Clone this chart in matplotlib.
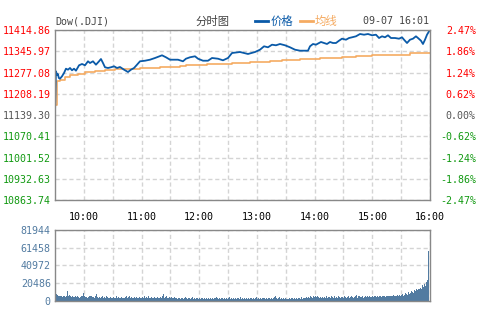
import numpy as np
import matplotlib
matplotlib.use("Agg")
import matplotlib.pyplot as plt

plt.rcParams['font.family'] = ['DejaVu Sans Mono', 'Noto Sans CJK SC']

# price axis levels (prev close in the middle)
price_levels = [10863.74, 10932.63, 11001.52, 11070.41, 11139.30,
                11208.19, 11277.08, 11345.97, 11414.86]
pct_labels = ['-2.47%', '-1.86%', '-1.24%', '-0.62%', '0.00%',
              '0.62%', '1.24%', '1.86%', '2.47%']
time_labels = ['10:00', '', '11:00', '', '12:00', '', '13:00', '', '14:00',
               '', '15:00', '', '16:00']
vol_levels = [0, 20486, 40972, 61458, 81944]

# minutes since 9:30
price_min = [0, 1, 2, 3, 4, 5.2, 7.3, 9.4, 11.4, 13.5, 15.6, 17.7, 19.8, 21.8,
             25, 28.1, 31.2, 34.3, 36.4, 39.5, 42.6, 45.8, 47.8, 49.9, 52,
             55.1, 58.2, 61.4, 64.5, 67.6, 71.8, 75.9, 79, 82.2, 85.3, 88.4,
             93.6, 98.8, 104, 111.3, 115.4, 119.6, 127.9, 133.1, 136.2, 140.4,
             145.6, 148.7, 153.9, 159.1, 163.3, 169.5, 174.7, 179.9, 184.1,
             192.4, 196.6, 200.7, 208, 213.2, 217.4, 221.5, 225.7, 229.8, 234,
             239.2, 244.4, 249.6, 254.8, 263.1, 265.2, 268.3, 271.4, 274.6,
             276.6, 279.8, 282.9, 286, 289.1, 292.2, 295.4, 298.5, 302.6,
             305.8, 308.9, 313, 317.2, 321.4, 325.5, 329.7, 333.8, 337, 340.1,
             343.2, 346.3, 349.4, 353.6, 357.8, 360.9, 363, 366.1, 369.2,
             372.3, 375.4, 377.5, 380.6, 382.7, 384.8, 386.9, 389, 390]
price = [11145.8, 11281.0, 11270.0, 11272.0, 11259.3, 11257.0, 11264.8,
         11275.5, 11289.4, 11286.2, 11291.7, 11284.2, 11289.4, 11282.9,
         11300.4, 11304.7, 11300.4, 11313.4, 11307.9, 11313.4, 11302.4,
         11313.4, 11320.9, 11307.9, 11294.0, 11291.7, 11294.0, 11297.2,
         11291.7, 11294.9, 11286.2, 11278.7, 11286.2, 11291.7, 11302.4,
         11313.4, 11315.3, 11318.6, 11324.1, 11332.8, 11326.4, 11318.6,
         11318.6, 11313.4, 11321.8, 11326.4, 11329.6, 11321.8, 11315.3,
         11315.3, 11324.1, 11321.8, 11316.6, 11324.1, 11340.3, 11343.5,
         11340.3, 11337.1, 11343.5, 11351.0, 11362.0, 11358.8, 11367.2,
         11365.3, 11369.5, 11365.3, 11358.8, 11351.0, 11347.8, 11347.8,
         11362.0, 11369.5, 11367.2, 11372.7, 11376.0, 11372.7, 11369.5,
         11376.0, 11372.7, 11372.7, 11380.2, 11386.7, 11383.4, 11388.9,
         11391.2, 11394.4, 11401.9, 11399.6, 11401.9, 11397.7, 11399.6,
         11388.9, 11394.4, 11391.2, 11397.7, 11388.9, 11388.9, 11386.7,
         11391.2, 11383.4, 11372.7, 11383.4, 11386.7, 11394.4, 11388.9,
         11380.2, 11369.5, 11383.4, 11399.6, 11410.6, 11414.86]

avg_min = [0, 2.1, 5.2, 10.4, 15.6, 23.9, 31.2, 41.6, 52, 62.4, 88.4, 109.2,
           130, 136.2, 158, 184.1, 202.8, 223.6, 236.1, 254.8, 275.6, 298.5,
           313, 329.7, 346.3, 369.2, 390]
avg = [11171.7, 11248.5, 11253.7, 11261.5, 11268.0, 11272.2, 11277.7,
       11282.9, 11286.2, 11289.4, 11291.7, 11294.0, 11297.2, 11300.4,
       11304.7, 11307.9, 11311.1, 11313.4, 11316.6, 11320.9, 11324.1,
       11326.4, 11329.6, 11332.8, 11334.8, 11340.3, 11340.3]

# volume per minute, thousands
volume_k = [
    18, 16, 8, 7, 6, 5, 6, 5, 4, 5, 6, 4, 5, 11, 6, 7, 5, 4, 5, 4,
    4, 5, 3, 4, 5, 4, 3, 4, 5, 6, 9, 5, 4, 4, 3, 4, 5, 6, 5, 4,
    4, 3, 5, 8, 4, 3, 4, 5, 3, 4, 6, 3, 4, 3, 5, 4, 3, 3, 4, 3,
    3, 4, 3, 3, 5, 3, 4, 3, 3, 4, 3, 4, 3, 3, 4, 5, 3, 4, 6, 3,
    4, 3, 3, 4, 3, 4, 3, 3, 4, 3, 3, 4, 3, 5, 3, 7, 4, 3, 5, 3,
    3, 4, 3, 3, 4, 3, 3, 4, 3, 3, 4, 3, 5, 8, 3, 4, 5, 3, 3, 4,
    5, 3, 4, 3, 3, 4, 3, 3, 2, 3, 3, 2, 3, 3, 2, 3, 4, 3, 2, 3,
    3, 2, 3, 4, 3, 2, 3, 2, 3, 3, 2, 3, 2, 3, 3, 2, 3, 2, 3, 2,
    3, 2, 3, 2, 3, 2, 3, 3, 4, 2, 3, 2, 3, 2, 3, 3, 2, 3, 2, 3,
    2, 3, 4, 2, 3, 2, 3, 2, 3, 2, 3, 3, 2, 3, 4, 2, 3, 2, 3, 2,
    3, 2, 3, 2, 3, 3, 2, 3, 2, 3, 4, 2, 3, 2, 3, 2, 3, 3, 2, 3,
    2, 3, 2, 3, 3, 2, 3, 2, 3, 4, 6, 3, 2, 3, 4, 2, 3, 2, 3, 2,
    3, 2, 3, 2, 2, 3, 2, 3, 3, 2, 3, 2, 3, 2, 3, 3, 2, 4, 2, 3,
    3, 3, 4, 3, 4, 3, 3, 5, 4, 3, 5, 4, 6, 4, 5, 4, 3, 4, 3, 4,
    3, 4, 3, 5, 3, 4, 4, 3, 5, 4, 3, 4, 5, 3, 4, 3, 5, 4, 3, 4,
    4, 3, 5, 4, 3, 4, 6, 3, 4, 5, 4, 3, 4, 5, 7, 4, 3, 5, 6, 4,
    4, 5, 3, 4, 5, 4, 6, 4, 5, 4, 4, 5, 4, 6, 5, 4, 5, 4, 5, 6,
    5, 4, 5, 6, 5, 4, 5, 6, 5, 6, 5, 6, 5, 7, 6, 5, 6, 7, 6, 7,
    6, 7, 8, 6, 8, 7, 9, 8, 7, 10, 8, 9, 11, 10, 9, 12, 11, 13, 12, 14,
    13, 15, 14, 18, 16, 19, 17, 22, 24, 28, 58]

RED = '#ff0000'
GREEN = '#119911'
GREY = '#555555'
BLUE = '#0a5aa8'
ORANGE = '#f5ab62'
VOLC = '#527ba1'
FS = 7.2
FS_CJK = 8.2
CJK = ['Noto Sans CJK SC']

fig = plt.figure(figsize=(4.8, 3.3), dpi=100)
ax = fig.add_axes([55/480, 1-200/330, 375/480, 170/330])
axv = fig.add_axes([55/480, 1-300.7/330, 375/480, 70.7/330])

grid_kw = dict(color='#d4d4d4', linestyle=(0, (3, 2)), linewidth=1)
xt = np.arange(30, 391, 30)

for a in (ax, axv):
    a.set_xlim(0, 390)
    for s in a.spines.values():
        s.set_color('#888888')
        s.set_linewidth(1.0)
    a.set_xticks(xt)
    a.grid(True, **grid_kw)
    a.set_axisbelow(True)
    a.tick_params(length=0)

ax.plot(avg_min, avg, color=ORANGE, lw=1.2, drawstyle='steps-post')
ax.plot(price_min, price, color=BLUE, lw=1.3)
ax.set_ylim(price_levels[0], price_levels[-1])
ax.set_yticks(price_levels)
ax.set_yticklabels(['%.2f' % v for v in price_levels], fontsize=FS)
ax.tick_params(axis='y', pad=3)
ax.set_xticklabels(time_labels, fontsize=FS, color='black')
ax.tick_params(axis='x', pad=9)

ax2 = ax.twinx()
ax2.set_ylim(price_levels[0], price_levels[-1])
ax2.set_yticks(price_levels)
ax2.set_yticklabels(pct_labels, fontsize=FS, ha='right')
ax2.tick_params(axis='y', length=0, pad=33)
for s in ax2.spines.values():
    s.set_visible(False)

for i, (l1, l2) in enumerate(zip(ax.get_yticklabels(), ax2.get_yticklabels())):
    c = GREEN if i < 4 else (GREY if i == 4 else RED)
    l1.set_color(c)
    l2.set_color(c)

# one bar per minute, spread over the session
n = len(volume_k)
step = 390 / n
axv.bar((np.arange(n) - 0.6) * step, np.array(volume_k) * 1000, width=step,
        align='edge', color=VOLC, linewidth=0)
axv.set_ylim(0, vol_levels[-1])
axv.set_yticks(vol_levels)
axv.set_yticklabels([str(v) for v in vol_levels], fontsize=FS, color=VOLC)
axv.tick_params(axis='y', pad=3)
axv.set_xticklabels([])

ty = 1 - 21/330
fig.text(55/480, ty, 'Dow(.DJI)', fontsize=FS, color='#444444', va='center')
fig.text(213/480, ty, '分时图', fontsize=FS_CJK, color='#444444', va='center',
         ha='center', family=CJK)
fig.add_artist(plt.Line2D([255/480, 268/480], [ty, ty], color=BLUE, lw=2))
fig.text(271/480, ty, '价格', fontsize=FS_CJK, color=BLUE, va='center', family=CJK)
fig.add_artist(plt.Line2D([300/480, 313/480], [ty, ty], color=ORANGE, lw=2))
fig.text(315/480, ty, '均线', fontsize=FS_CJK, color=ORANGE, va='center', family=CJK)
fig.text(429/480, ty, '09-07 16:01', fontsize=FS, color='#444444',
         va='center', ha='right')

fig.savefig('out.png', dpi=100)
